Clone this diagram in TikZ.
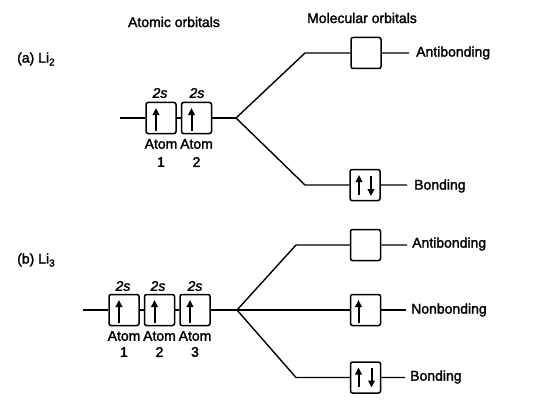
\documentclass[tikz,border=0pt]{standalone}
\usepackage{fontspec}
\setmainfont{Liberation Sans}[FakeBold=1.8]
\usetikzlibrary{arrows.meta}
\begin{document}
\begin{tikzpicture}[x=1pt,y=-1pt,
  orb/.style={draw, line width=1.5pt, minimum width=30pt, minimum height=31pt, rounded corners=2pt, inner sep=0pt},
  ln/.style={line width=1.4pt},
  spin/.style={line width=2pt, -{Triangle[length=7pt,width=6.5pt]}},
  lbl/.style={font=\fontsize{14}{16}\selectfont, inner sep=0pt},
  sub/.style={font=\fontsize{14}{16}\selectfont\itshape, inner sep=0pt}]
\useasboundingbox (0,0) rectangle (540,401);
% headings
\node[lbl] (hAO) at (174,22) {Atomic orbitals};
\node[lbl] (hMO) at (362,18) {Molecular orbitals};
% ---------------- (a) Li2
\node[lbl, anchor=west] (la) at (17,59) {(a) Li\raisebox{-3pt}{\fontsize{10}{10}\selectfont 2}};
\node[orb] (a1) at (161,118) {};
\node[orb] (a2) at (196.5,118) {};
\node[sub] (a1s) at (160,93) {2s};
\node[sub] (a2s) at (197,93) {2s};
\node[lbl] (a1t) at (161,144) {Atom};
\node[lbl] (a2t) at (196.5,144) {Atom};
\node[lbl] (a1n) at (161,162) {1};
\node[lbl] (a2n) at (196.5,162) {2};
\coordinate (aL) at (120,118);
\coordinate (aV) at (236,118);
\coordinate (aU) at (305,53);
\coordinate (aD) at (305,185);
\node[orb] (aAB) at (366,53) {};
\node[orb] (aB) at (365,185) {};
\coordinate (aABe) at (409,53);
\coordinate (aBe) at (407,185);
\node[lbl, anchor=west] (aABt) at (416,53) {Antibonding};
\node[lbl, anchor=west] (aBt) at (414,186) {Bonding};
\draw[ln] (aL) -- (a1.west) (a1.east) -- (a2.west) (a2.east) -- (aV);
\draw[ln] (aV) -- (aU) -- (aAB.west) (aAB.east) -- (aABe);
\draw[ln] (aV) -- (aD) -- (aB.west) (aB.east) -- (aBe);
\draw[spin] ([shift={(-5,13)}]a1.center) -- ([shift={(-5,-10)}]a1.center);
\draw[spin] ([shift={(-5,13)}]a2.center) -- ([shift={(-5,-10)}]a2.center);
\draw[spin] ([shift={(-6,10)}]aB.center) -- ([shift={(-6,-10)}]aB.center);
\draw[spin] ([shift={(6,-9)}]aB.center) -- ([shift={(6,11)}]aB.center);
% ---------------- (b) Li3
\node[lbl, anchor=west] (lb) at (17,260) {(b) Li\raisebox{-3pt}{\fontsize{10}{10}\selectfont 3}};
\node[orb] (b1) at (124,310) {};
\node[orb] (b2) at (159.5,310) {};
\node[orb] (b3) at (195,310) {};
\node[sub] (b1s) at (123,286) {2s};
\node[sub] (b2s) at (158,286) {2s};
\node[sub] (b3s) at (195,286) {2s};
\node[lbl] (b1t) at (124,336) {Atom};
\node[lbl] (b2t) at (159.5,336) {Atom};
\node[lbl] (b3t) at (195,336) {Atom};
\node[lbl] (b1n) at (124,352) {1};
\node[lbl] (b2n) at (159.5,352) {2};
\node[lbl] (b3n) at (195,352) {3};
\coordinate (bL) at (83,310);
\coordinate (bV) at (237,310);
\coordinate (bU) at (296,245);
\coordinate (bD) at (296,377.5);
\node[orb] (bAB) at (365.5,245) {};
\node[orb] (bNB) at (365.5,310) {};
\node[orb] (bB) at (365.5,377.5) {};
\coordinate (bABe) at (407,245);
\coordinate (bNBe) at (406,310);
\coordinate (bBe) at (405,377.5);
\node[lbl, anchor=west] (bABt) at (412,244) {Antibonding};
\node[lbl, anchor=west] (bNBt) at (411,310) {Nonbonding};
\node[lbl, anchor=west] (bBt) at (410,377) {Bonding};
\draw[ln] (bL) -- (b1.west) (b1.east) -- (b2.west) (b2.east) -- (b3.west) (b3.east) -- (bV);
\draw[ln] (bV) -- (bU) -- (bAB.west) (bAB.east) -- (bABe);
\draw[ln] (bV) -- (bNB.west) (bNB.east) -- (bNBe);
\draw[ln] (bV) -- (bD) -- (bB.west) (bB.east) -- (bBe);
\draw[spin] ([shift={(-5,13)}]b1.center) -- ([shift={(-5,-10)}]b1.center);
\draw[spin] ([shift={(-5,13)}]b2.center) -- ([shift={(-5,-10)}]b2.center);
\draw[spin] ([shift={(-5,13)}]b3.center) -- ([shift={(-5,-10)}]b3.center);
\draw[spin] ([shift={(-7,13)}]bNB.center) -- ([shift={(-7,-10)}]bNB.center);
\draw[spin] ([shift={(-7,9)}]bB.center) -- ([shift={(-7,-10)}]bB.center);
\draw[spin] ([shift={(6,-10)}]bB.center) -- ([shift={(6,10)}]bB.center);
\end{tikzpicture}
\end{document}
